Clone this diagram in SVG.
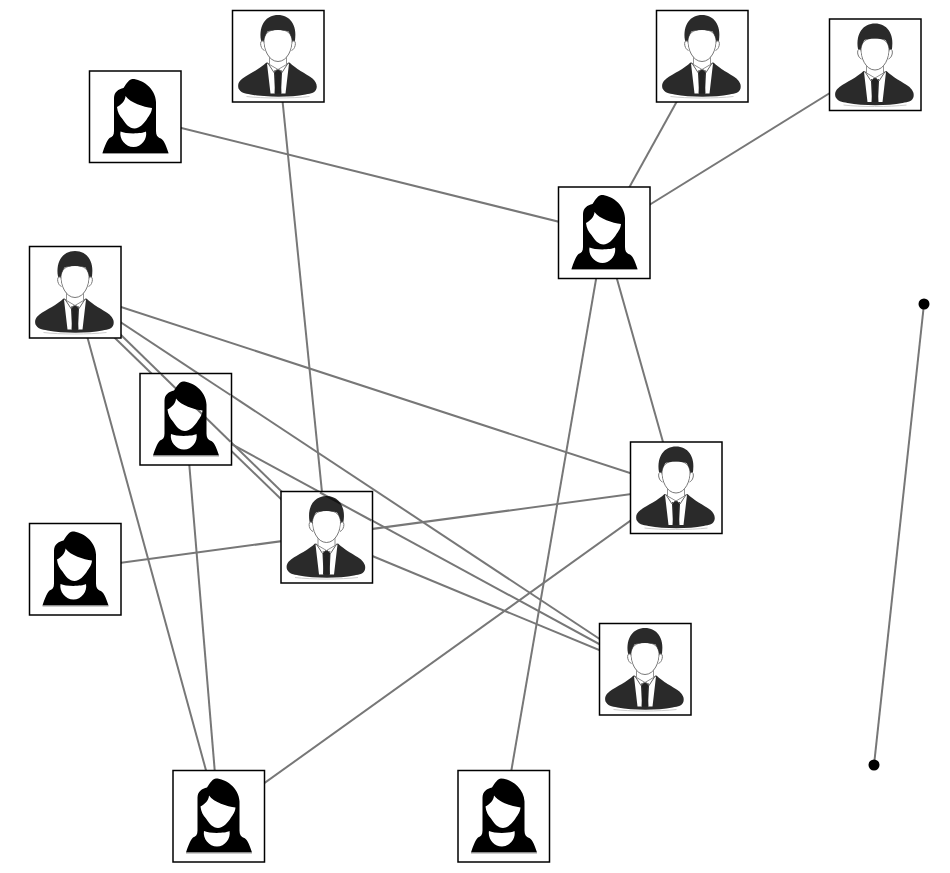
<svg xmlns="http://www.w3.org/2000/svg" width="950" height="873" viewBox="0 0 950 873">
<style>
.c{stroke:#777;stroke-width:2;fill:none}
.over{mix-blend-mode:multiply}
.box{fill:#fff;stroke:#000;stroke-width:1.5}
.dot{fill:#000}
</style>
<defs>
<filter id="soft" x="-5%" y="-5%" width="110%" height="110%"><feGaussianBlur stdDeviation="0.7"/></filter>
<symbol id="man" viewBox="0 0 91.500 91.500" width="91.500" height="91.500" overflow="visible">
<rect class="box" x="0" y="0" width="91.500" height="91.500"/>
<g filter="url(#soft)">
<path d="M34 52 C28 58 17 63 10 68 C6 71 5 74 6 78 C8 82 12 83 18 84 C34 87 58 87 73 84 C79 83 83 82 84 78 C85 74 83 71 80 68 C73 63 63 58 57 52 L46 58Z" fill="#2b2b2b"/>
<path d="M34.500 53 L38 83 L42.500 83 L41.500 62 L45.500 58Z M56.500 53 L53 83 L48.500 83 L49.500 62 L45.500 58Z" fill="#fff"/>
<path d="M41.500 60 L49.500 60 L47.500 65 L49 83 L42 83 L43.500 65Z" fill="#222"/>
<path d="M35 52 L41.500 62 L45.500 58 L49.500 62 L56 52" fill="none" stroke="#666" stroke-width="1"/>
<path d="M37 45 L37 54 L45.500 59 L54 54 L54 45Z" fill="#fff" stroke="#777" stroke-width="0.8"/>
<path d="M31.500 30 C31 38 36 51 45.500 51 C55 51 60 38 59.500 30 C59 24 56 19 45.500 19 C35 19 32 24 31.500 30Z" fill="#fff" stroke="#555" stroke-width="0.8"/>
<path d="M28.500 30 C26 14 34 4.500 45.500 4.500 C57 4.500 65 14 62.500 30 L60 34 C60 28 58 24 56 21 C49 19 41 19 35 21 C33 24 31 28 31 34Z" fill="#2b2b2b"/>
<path d="M31 31 C27 28 27 38 32 40 M60 31 C64 28 64 38 59 40" fill="#fff" stroke="#777" stroke-width="1"/>
<path d="M14 86 C30 88 60 88 77 86" fill="none" stroke="#ccc" stroke-width="1"/>
</g>
</symbol>
<symbol id="woman" viewBox="0 0 91.500 91.500" width="91.500" height="91.500" overflow="visible">
<rect class="box" x="0" y="0" width="91.500" height="91.500"/>
<g filter="url(#soft)">
<path d="M43 8 C52 8 66 17 66.500 31 L66.500 60 C66.500 64 68 66 70 67 C74 68 76 73 79 82 L13 82 C15 76 17 70 20 67 C23 66 24.500 64 24.500 60 L24.500 27 C24.500 21 29 18 34 17 C37 12 40 8 43 8Z" fill="#000"/>
<path d="M36 25 C36 30 31 34 27.500 36 C28 41 30 45 33 48 C36 53 40 57.500 45 57.500 C50 57.500 55 52 58 47 C60 44 62 42 62.500 37 C54 36 41 32 36 25Z" fill="#fff"/>
<path d="M31 60.500 C36 63 52 63 56.500 60.500 C58 68 52 76 44 76 C36 76 29.500 68 31 60.500Z" fill="#fff"/>
<path d="M13 82.500 L79 82.500" stroke="#999" stroke-width="1"/>
</g>
</symbol>
</defs>
<g id="connectors">
<line class="c" x1="135" y1="116.500" x2="604" y2="233"/>
<line class="c" x1="278" y1="56" x2="326.500" y2="537"/>
<line class="c" x1="702" y1="56" x2="604" y2="233"/>
<line class="c" x1="875" y1="65" x2="604" y2="233"/>
<line class="c" x1="604" y1="233" x2="676" y2="488"/>
<line class="c" x1="604" y1="233" x2="503.500" y2="816"/>
<line class="c" x1="75" y1="292" x2="676" y2="488"/>
<line class="c" x1="75" y1="292" x2="218.500" y2="816"/>
<line class="c" x1="100" y1="323.500" x2="300" y2="517.500"/>
<line class="c" x1="75" y1="292" x2="645" y2="669"/>
<line class="c" x1="100" y1="314.500" x2="300" y2="509.500"/>
<line class="c" x1="185.500" y1="419" x2="218.500" y2="816"/>
<line class="c" x1="185.500" y1="419" x2="645" y2="669"/>
<line class="c" x1="75" y1="569" x2="676" y2="488"/>
<line class="c" x1="326.500" y1="537" x2="645" y2="669"/>
<line class="c" x1="218.500" y1="816" x2="676" y2="488"/>
<line class="c" x1="924" y1="304" x2="874" y2="765"/>
</g>
<g id="node-1"><use href="#woman" x="89.500" y="71"/></g>
<g id="node-2"><use href="#man" x="232.500" y="10.500"/></g>
<g id="node-3"><use href="#man" x="656.500" y="10.500"/></g>
<g id="node-4"><use href="#man" x="829.500" y="19"/></g>
<g id="node-5"><use href="#woman" x="558.500" y="187"/></g>
<g id="node-6"><use href="#man" x="29.500" y="246.500"/></g>
<g id="node-7"><use href="#woman" x="140" y="373.500"/></g>
<g id="node-8"><use href="#man" x="281" y="491.500"/></g>
<g id="node-9"><use href="#man" x="630.500" y="442"/></g>
<g id="node-10"><use href="#woman" x="29.500" y="523.500"/></g>
<g id="node-11"><use href="#man" x="599.500" y="623.500"/></g>
<g id="node-12"><use href="#woman" x="173" y="770.500"/></g>
<g id="node-13"><use href="#woman" x="458" y="770.500"/></g>
<g id="connectors-over" class="over">
<line class="c" x1="161" y1="374" x2="230.500" y2="441.700"/>
<line class="c" x1="198.500" y1="374" x2="230.500" y2="395"/>
<line class="c" x1="320" y1="492.500" x2="371.500" y2="520.500"/>
</g>
<g id="endpoints">
<circle class="dot" cx="924" cy="304" r="5.500"/>
<circle class="dot" cx="874" cy="765" r="5.500"/>
</g>
</svg>
